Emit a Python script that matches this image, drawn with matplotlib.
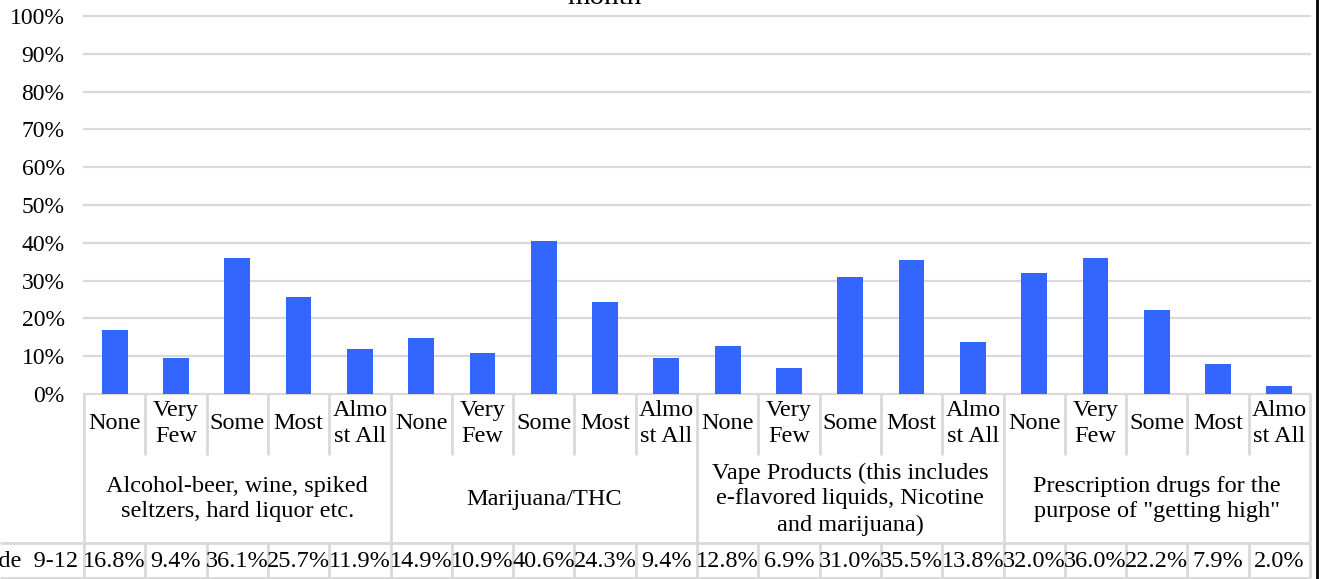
import matplotlib
matplotlib.use("Agg")
import matplotlib.pyplot as plt
from matplotlib.lines import Line2D
import numpy as np

plt.rcParams['font.family'] = ['Liberation Serif', 'DejaVu Serif']

# Survey responses: share of students answering each level, per substance group
groups = [
    "Alcohol-beer, wine, spiked\nseltzers, hard liquor etc.",
    "Marijuana/THC",
    "Vape Products (this includes\ne-flavored liquids, Nicotine\nand marijuana)",
    "Prescription drugs for the\npurpose of \"getting high\"",
]
levels = ["None", "Very\nFew", "Some", "Most", "Almo\nst All"]
alcohol = [16.8, 9.4, 36.1, 25.7, 11.9]
marijuana = [14.9, 10.9, 40.6, 24.3, 9.4]
vape = [12.8, 6.9, 31.0, 35.5, 13.8]
prescription = [32.0, 36.0, 22.2, 7.9, 2.0]
series_name = "Grade  9-12"
title_tail = "month"
yticks = [0, 10, 20, 30, 40, 50, 60, 70, 80, 90, 100]

values = np.array(alcohol + marijuana + vape + prescription)
n = len(values)
x = np.arange(n)

W, H = 1326, 579
fig = plt.figure(figsize=(W / 100, H / 100), dpi=100)

left, right = 84 / W, 1310 / W
ax = fig.add_axes([left, 185 / H, right - left, (394 - 16) / H])
bar_color = "#3366FF"
grid_color = "#D9D9D9"

ax.bar(x, values, width=0.42, color=bar_color, zorder=3)
ax.set_xlim(-0.5, n - 0.5)
ax.set_ylim(0, 100)
ax.set_yticks(yticks)
ax.set_yticklabels([f"{t}%" for t in yticks], fontsize=17)
ax.tick_params(axis="y", length=0, pad=14)
ax.set_xticks([])
ax.grid(axis="y", color=grid_color, linewidth=1.6, zorder=0)
for gl in ax.get_ygridlines():
    gl.set_clip_on(False)
for s in ax.spines.values():
    s.set_visible(False)

# Data table below the plot, sharing the column layout of the bars
tab = fig.add_axes([left, 0, right - left, 185 / H])
tab.set_xlim(-0.5, n - 0.5)
tab.set_ylim(0, 185)
tab.axis("off")

y_top, y_mid, y_val, y_bot = 185, 124, 36, 1.5
label_left = -0.5 - 84 / ((1310 - 84) / n)
lkw = dict(color=grid_color, linewidth=2, clip_on=False, solid_capstyle="butt")

for k in range(n + 1):
    xb = k - 0.5
    if k % 5 == 0:
        tab.plot([xb, xb], [y_val, y_top], **lkw)
    else:
        tab.plot([xb, xb], [y_mid, y_top], **lkw)
    tab.plot([xb, xb], [y_bot, y_val], **lkw)
tab.plot([label_left, n - 0.5], [y_val, y_val], **lkw)
tab.plot([label_left, n - 0.5], [y_bot, y_bot], **lkw)

fs = 17.5
for i in range(n):
    tab.text(i, (y_mid + y_top) / 2 + 1, levels[i % 5], ha="center", va="center",
             fontsize=fs, linespacing=1.3, clip_on=False)
    tab.text(i, (y_bot + y_val) / 2 - 1, f"{values[i]:.1f}%", ha="center", va="center",
             fontsize=fs, clip_on=False)
for g, name in enumerate(groups):
    tab.text(g * 5 + 2, (y_val + y_mid) / 2, name, ha="center", va="center",
             fontsize=fs, linespacing=1.3, clip_on=False)

tab.text(-0.6, (y_bot + y_val) / 2 - 1, series_name, ha="right", va="center",
         fontsize=fs, clip_on=False)

fig.text(605 / W, (H - 4) / H, title_tail, ha="center", va="baseline", fontsize=21)
fig.add_artist(Line2D([1317 / W, 1317 / W], [0, 1], color="black", linewidth=2))

fig.savefig("out.png", dpi=100, facecolor="white")
